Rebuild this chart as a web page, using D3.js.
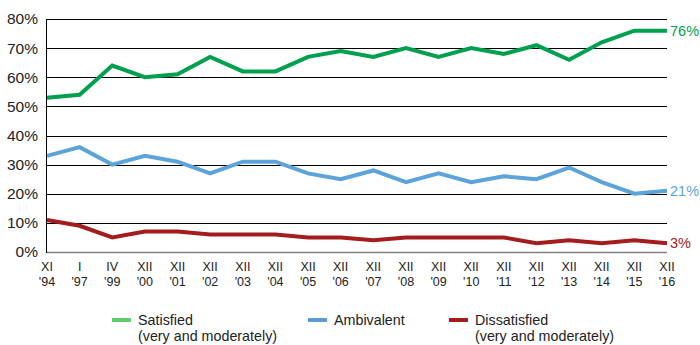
<!DOCTYPE html>
<html>
<head>
<meta charset="utf-8">
<script src="https://cdn.jsdelivr.net/npm/d3@7/dist/d3.min.js"></script>
<style>
  html, body { margin: 0; padding: 0; background: #fff; }
  svg { display: block; font-family: "Liberation Sans", Arial, sans-serif; }
</style>
</head>
<body>
<svg id="chart" width="700" height="345"></svg>
<script>
// Survey waves: month (roman numeral) and year
const months = ["XI", "I", "IV", "XII", "XII", "XII", "XII", "XII", "XII", "XII",
                "XII", "XII", "XII", "XII", "XII", "XII", "XII", "XII", "XII", "XII"];
const years = ["'94", "'97", "'99", "'00", "'01", "'02", "'03", "'04", "'05", "'06",
               "'07", "'08", "'09", "'10", "'11", "'12", "'13", "'14", "'15", "'16"];

// Share of respondents (%)
const satisfied    = [53, 54, 64, 60, 61, 67, 62, 62, 67, 69, 67, 70, 67, 70, 68, 71, 66, 72, 76, 76];
const ambivalent   = [33, 36, 30, 33, 31, 27, 31, 31, 27, 25, 28, 24, 27, 24, 26, 25, 29, 24, 20, 21];
const dissatisfied = [11,  9,  5,  7,  7,  6,  6,  6,  5,  5,  4,  5,  5,  5,  5,  3,  4,  3,  4,  3];

const yTicks = [0, 10, 20, 30, 40, 50, 60, 70, 80];

const series = [
  { name: "Satisfied", sub: "(very and moderately)", values: satisfied,
    color: "#00a04f", legendColor: "#5dcc6a", lx: 112 },
  { name: "Ambivalent", sub: null, values: ambivalent,
    color: "#5ba3d9", legendColor: "#5b9bd5", lx: 308 },
  { name: "Dissatisfied", sub: "(very and moderately)", values: dissatisfied,
    color: "#a51c1c", legendColor: "#a51c1c", lx: 449 }
];

const svg = d3.select("#chart");
const plotLeft = 47, plotRight = 667, plotTop = 19, plotBottom = 252;

const idx = d3.range(years.length);
const x = d3.scalePoint().domain(idx).range([plotLeft, plotRight]);
const y = d3.scaleLinear().domain([0, 80]).range([plotBottom, plotTop]);

// Horizontal gridlines
svg.append("g")
  .selectAll("line")
  .data(yTicks.filter(d => d > 0))
  .join("line")
  .attr("x1", plotLeft).attr("x2", plotRight)
  .attr("y1", d => Math.round(y(d)) + 0.5).attr("y2", d => Math.round(y(d)) + 0.5)
  .attr("stroke", "#000").attr("stroke-width", 1);

// Baseline (grey) and left axis line
svg.append("line")
  .attr("x1", plotLeft).attr("x2", plotRight)
  .attr("y1", Math.round(y(0)) + 0.5).attr("y2", Math.round(y(0)) + 0.5)
  .attr("stroke", "#808080").attr("stroke-width", 1.5);
svg.append("line")
  .attr("x1", plotLeft - 0.5).attr("x2", plotLeft - 0.5)
  .attr("y1", y(80)).attr("y2", y(0) + 1)
  .attr("stroke", "#000").attr("stroke-width", 1);

// Y axis labels
const yAxis = d3.axisLeft(y).tickValues(yTicks).tickFormat(d => d + "%").tickSize(0).tickPadding(9);
const gy = svg.append("g").attr("transform", `translate(${plotLeft},0)`).call(yAxis);
gy.select(".domain").remove();
gy.selectAll("text")
  .attr("font-family", "Liberation Sans, Arial, sans-serif")
  .attr("font-size", 15.5).attr("fill", "#222");

// X axis labels (two lines each)
const gx = svg.append("g");
gx.selectAll("text.m")
  .data(idx).join("text").attr("class", "m")
  .attr("x", d => x(d)).attr("y", 270.5)
  .attr("text-anchor", "middle").attr("font-size", 12.5).attr("fill", "#222")
  .text(d => months[d]);
gx.selectAll("text.yr")
  .data(idx).join("text").attr("class", "yr")
  .attr("x", d => x(d)).attr("y", 285.5)
  .attr("text-anchor", "middle").attr("font-size", 12.5).attr("fill", "#222")
  .text(d => years[d]);

// Series lines
const line = d3.line().x((d, i) => x(i)).y(d => y(d));
svg.append("g")
  .selectAll("path")
  .data(series)
  .join("path")
  .attr("d", s => line(s.values))
  .attr("fill", "none")
  .attr("stroke", s => s.color)
  .attr("stroke-width", 4)
  .attr("stroke-linejoin", "miter");

// End-value labels
svg.append("g")
  .selectAll("text")
  .data(series)
  .join("text")
  .attr("x", plotRight + 3)
  .attr("y", s => y(s.values[s.values.length - 1]) + 5)
  .attr("font-size", 14.5)
  .attr("fill", s => s.color)
  .text(s => s.values[s.values.length - 1] + "%");

// Legend: swatch plus a (possibly two-line) label
const lg = svg.append("g").selectAll("g").data(series).join("g")
  .attr("transform", s => `translate(${s.lx},0)`);
lg.append("line")
  .attr("x1", 0).attr("x2", 19).attr("y1", 320).attr("y2", 320)
  .attr("stroke", s => s.legendColor).attr("stroke-width", 4);
const lt = lg.append("text")
  .attr("x", 26).attr("y", 324.5)
  .attr("font-size", 14.3).attr("fill", "#222");
lt.append("tspan").attr("x", 26).text(s => s.name);
lt.filter(s => s.sub).append("tspan")
  .attr("x", 26).attr("dy", 16)
  .text(s => s.sub);
</script>
</body>
</html>
